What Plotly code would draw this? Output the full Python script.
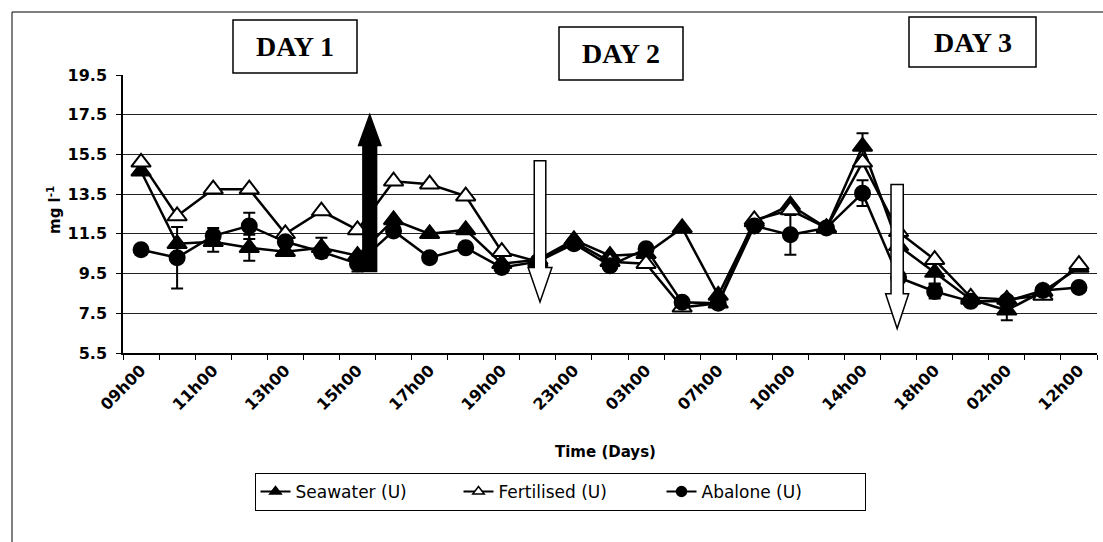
import plotly.graph_objects as go

# Sampling times (one category per sample); only every second one is labelled
times = ["09h00", "10h00", "11h00", "12h00", "13h00", "14h00", "15h00", "16h00",
         "17h00", "18h00", "19h00", "21h00", "23h00", "01h00", "03h00", "05h00",
         "07h00", "08h00", "10h00", "12h00", "14h00", "16h00", "18h00", "22h00",
         "02h00", "07h00", "12h00"]
tick_labels = ["09h00", "11h00", "13h00", "15h00", "17h00", "19h00", "23h00",
               "03h00", "07h00", "10h00", "14h00", "18h00", "02h00", "12h00"]

# Concentrations (mg l-1)
seawater = [14.65, 11.0, 11.1, 10.8, 10.6, 10.8, 10.4, 12.2, 11.5, 11.7, 10.0, 10.2,
            11.2, 10.4, 10.5, 11.8, 8.4, 12.1, 12.95, 11.8, 15.9, 10.9, 9.55, 8.2,
            7.65, 8.6, 9.8]
fertilised = [15.1, 12.4, 13.75, 13.75, 11.5, 12.65, 11.7, 14.15, 14.0, 13.4, 10.6, 10.1,
              11.1, 10.1, 10.0, 7.8, 8.0, 12.2, 12.7, 11.8, 15.1, 11.6, 10.2, 8.3,
              8.2, 8.4, 9.95]
abalone = [10.7, 10.3, 11.4, 11.9, 11.1, 10.6, 10.0, 11.65, 10.3, 10.8, 9.8, 10.1,
           11.0, 9.9, 10.75, 8.05, 8.0, 11.9, 11.45, 11.8, 13.55, 9.3, 8.6, 8.1,
           8.1, 8.65, 8.8]

# Standard errors
seawater_err = [0, 0, 0.5, 0.65, 0, 0.5, 0, 0, 0, 0, 0, 0, 0, 0, 0, 0, 0, 0, 0, 0,
                0.67, 0, 0.55, 0, 0.5, 0, 0]
fertilised_err = [0] * len(times)
abalone_err = [0, 1.55, 0.4, 0.66, 0, 0, 0.4, 0, 0, 0, 0, 0, 0, 0, 0, 0, 0, 0, 1.0, 0,
               0.65, 0, 0.35, 0, 0, 0, 0]

idx = list(range(len(times)))
tick_pos = idx[::2]

FONT = "DejaVu Sans"
W, H = 1103, 542
ML, MR, MT, MB = 123, 6, 75, 189
PW, PH = W - ML - MR, H - MT - MB


def px(x):
    return (x - ML) / PW


def py(y):
    return (H - MB - y) / PH


series = [
    ("Seawater (U)", seawater, seawater_err, "triangle-up", "black", 17),
    ("Fertilised (U)", fertilised, fertilised_err, "triangle-up", "white", 17),
    ("Abalone (U)", abalone, abalone_err, "circle", "black", 15),
]

fig = go.Figure()
for name, vals, err, sym, fill, size in series:
    fig.add_trace(go.Scatter(
        x=idx, y=vals, mode="lines+markers", name=name, showlegend=False,
        line=dict(color="black", width=2.5),
        marker=dict(symbol=sym, size=size, color=fill,
                    line=dict(color="black", width=2)),
        error_y=dict(type="data", array=err, visible=True, color="black",
                     thickness=2, width=6),
    ))
# legend entries with smaller symbols
for name, vals, err, sym, fill, size in series:
    fig.add_trace(go.Scatter(
        x=[None], y=[None], mode="lines+markers", name=name,
        line=dict(color="black", width=2),
        marker=dict(symbol=sym, size=10, color=fill,
                    line=dict(color="black", width=1.5)),
    ))


def arrow(xc, y_tail, y_base, y_tip, shaft_hw, head_hw):
    return (f"M {xc - shaft_hw},{y_tail} L {xc - shaft_hw},{y_base} "
            f"L {xc - head_hw},{y_base} L {xc},{y_tip} L {xc + head_hw},{y_base} "
            f"L {xc + shaft_hw},{y_base} L {xc + shaft_hw},{y_tail} Z")


shapes = [
    # chart area frame
    dict(type="rect", xref="paper", yref="paper", x0=px(12), x1=px(1110),
         y0=py(12), y1=py(600), line=dict(color="black", width=1), layer="below"),
    # event arrows
    dict(type="path", xref="x", yref="y", layer="above",
         path=arrow(6.34, 9.6, 15.95, 17.5, 0.19, 0.31),
         fillcolor="black", line=dict(color="black", width=1.5)),
    dict(type="path", xref="x", yref="y", layer="above",
         path=arrow(11.06, 15.18, 9.8, 8.07, 0.16, 0.33),
         fillcolor="white", line=dict(color="black", width=1.5)),
    dict(type="path", xref="x", yref="y", layer="above",
         path=arrow(20.96, 13.98, 8.49, 6.73, 0.17, 0.32),
         fillcolor="white", line=dict(color="black", width=1.5)),
]

day_boxes = [("DAY 1", 233, 357, 20, 73), ("DAY 2", 559, 683, 27, 80),
             ("DAY 3", 909, 1036, 17, 67)]
annotations = []
for label, x0, x1, y0, y1 in day_boxes:
    shapes.append(dict(type="rect", xref="paper", yref="paper", layer="above",
                       x0=px(x0), x1=px(x1), y0=py(y1), y1=py(y0),
                       fillcolor="white", line=dict(color="black", width=1.5)))
    annotations.append(dict(xref="paper", yref="paper", x=px((x0 + x1) / 2),
                            y=py((y0 + y1) / 2), text=f"<b>{label}</b>",
                            showarrow=False, xanchor="center", yanchor="middle",
                            font=dict(family="Liberation Serif", size=28,
                                      color="black")))

annotations.append(dict(xref="paper", yref="paper", x=px(605), y=py(452),
                        xanchor="center", yanchor="middle",
                        text="Time (Days)", showarrow=False,
                        font=dict(family=FONT, size=15, color="black",
                                  weight="bold")))
annotations.append(dict(xref="paper", yref="paper", x=px(54), y=py(210),
                        xanchor="center", yanchor="middle",
                        text="mg l<sup>-1</sup>", showarrow=False, textangle=-90,
                        font=dict(family=FONT, size=15, color="black",
                                  weight="bold")))

fig.update_layout(
    width=W, height=H, autosize=False,
    margin=dict(l=ML, r=MR, t=MT, b=MB, pad=0),
    paper_bgcolor="white", plot_bgcolor="white",
    shapes=shapes, annotations=annotations,
    legend=dict(orientation="h", x=px(560), xanchor="center", y=py(473),
                yanchor="top", bordercolor="black", borderwidth=1,
                bgcolor="white", font=dict(family=FONT, size=17, color="black"),
                entrywidth=158, entrywidthmode="pixels", itemwidth=30),
    xaxis=dict(range=[-0.5, len(times) - 0.5], tickmode="array",
               tickvals=tick_pos, ticktext=tick_labels, tickangle=-45,
               ticks="", showgrid=False, zeroline=False,
               showline=True, linecolor="black", linewidth=1.5,
               tickfont=dict(family=FONT, size=16, color="black", weight="bold"),
               minor=dict(tickvals=[k - 0.5 for k in range(len(times) + 1)],
                          ticks="outside", ticklen=5, tickcolor="black",
                          tickwidth=1, showgrid=False)),
    yaxis=dict(range=[5.5, 19.5], tickmode="linear", tick0=5.5, dtick=2,
               tickformat=".1f", ticks="outside", ticklen=5, tickcolor="black",
               showgrid=True, gridcolor="#222222", gridwidth=1, zeroline=False,
               showline=True, linecolor="black", linewidth=1.5,
               ticklabelstandoff=6,
               tickfont=dict(family=FONT, size=16, color="black", weight="bold")),
)

fig.write_html("out.html")
